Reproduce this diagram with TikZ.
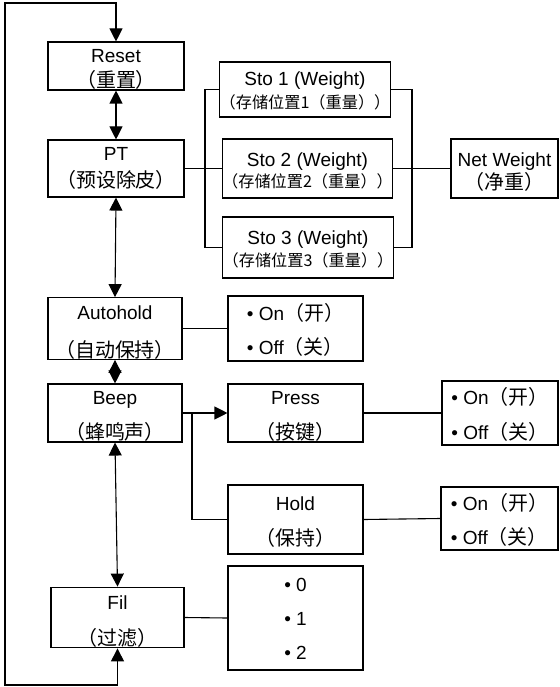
\documentclass[tikz,border=0pt]{standalone}
\usepackage{fontspec}
\setmainfont{Liberation Sans}
\newfontfamily\cjk[Scale=1.05]{Noto Sans CJK SC}
\newcommand{\hs}[1][20pt]{\rule{0pt}{#1}}
\usetikzlibrary{arrows.meta}

\begin{document}
\begin{tikzpicture}[x=1pt, y=-1pt,
        box/.style={rectangle, draw=black, line width=1.1pt, inner sep=0pt, align=center, font=\fontsize{19}{23}\selectfont},
        opt/.style={box, align=left},
        link/.style={line width=1.1pt},
        arr/.style={link, -{Triangle[length=13pt, width=13pt]}},
        dbl/.style={link, {Triangle[length=13pt, width=13pt]}-{Triangle[length=13pt, width=13pt]}}
    ]
    \useasboundingbox (0,0) rectangle (559,687);

    % main column
    \node[box, minimum width=136, minimum height=48] (reset) at (116,66) {\hs Reset\\[2.8pt]{\cjk （重置）}};
    \node[box, minimum width=136, minimum height=57] (pt) at (116,168.5) {PT\\[4.8pt]{\cjk （预设除皮）}};
    \node[box, minimum width=134, minimum height=59] (autohold) at (115,328.5) {\hs[21.5pt]Autohold\\[15.3pt]{\cjk （自动保持）}};
    \node[box, minimum width=134, minimum height=58] (beep) at (115,413) {\hs Beep\\[11.8pt]{\cjk （蜂鸣声）}};
    \node[box, minimum width=133, minimum height=59] (fil) at (117.5,617.5) {\hs[22pt]Fil\\[13.8pt]{\cjk （过滤）}};

    % stored weights
    \node[box, minimum width=158, minimum height=55] (sto1) at (305,89.5) {\hs[17pt]Sto 1 (Weight)\\[0.4pt]{\cjk\fontsize{15.4}{23}\selectfont （存储位置1（重量））}};
    \node[box, minimum width=159, minimum height=59] (sto2) at (307.5,168.5) {\hs[18pt]Sto 2 (Weight)\\[-1.6pt]{\cjk\fontsize{15.4}{23}\selectfont （存储位置2（重量））}};
    \node[box, minimum width=162, minimum height=61] (sto3) at (308,247.5) {\hs[17.5pt]Sto 3 (Weight)\\[-0.6pt]{\cjk\fontsize{15.4}{23}\selectfont （存储位置3（重量））}};
    \node[box, minimum width=107, minimum height=59] (net) at (504.5,168.5) {\hs[21pt]Net Weight\\[0.8pt]{\cjk （净重）}};

    % settings
    \node[opt, minimum width=135, minimum height=65] (autoopt) at (295.5,328.5) {\hs • On{\cjk （开）}\\[11pt]• Off{\cjk （关）}};
    \node[box, minimum width=135, minimum height=58] (press) at (295.5,413) {\hs Press\\[12.8pt]{\cjk （按键）}};
    \node[box, minimum width=135, minimum height=69] (hold) at (295.5,519.5) {\hs[18.5pt]Hold\\[11.8pt]{\cjk （保持）}};
    \node[opt, minimum width=116, minimum height=64] (pressopt) at (500,413) {\hs • On{\cjk （开）}\\[12pt]• Off{\cjk （关）}};
    \node[opt, minimum width=117, minimum height=63] (holdopt) at (499.5,518.5) {\hs • On{\cjk （开）}\\[11pt]• Off{\cjk （关）}};
    \node[box, minimum width=135, minimum height=104] (filopt) at (295.5,618) {\hs[15.5pt]• 0\\[11pt]• 1\\[11pt]• 2};

    % connectors
    \coordinate (lb) at (5,685);
    \coordinate (lt) at (5,3);
    \coordinate (lbus) at (205,168.5);
    \coordinate (rbus) at (412,168.5);
    \coordinate (split) at (192,413);

    \draw[dbl] (fil.south) |- (lb) -- (lt) -| (reset.north);
    \draw[dbl] (reset.south) -- (pt.north);
    \draw[dbl] (pt.south) -- (autohold.north);
    \draw[dbl] (autohold.south) -- (beep.north);
    \draw[dbl] (beep.south) -- (fil.north);

    \draw[link] (pt.east) -- (sto2.west);
    \draw[link] (sto1.west) -| (lbus) |- (sto3.west);
    \draw[link] (sto1.east) -| (rbus) |- (sto3.east);
    \draw[link] (sto2.east) -- (net.west);

    \draw[link] (autohold.east) -- (autoopt.west);
    \draw[arr] (beep.east) -- (press.west);
    \draw[link] (split) |- (hold.west);
    \draw[link] (press.east) -- (pressopt.west);
    \draw[link] (hold.east) -- (holdopt.west);
    \draw[link] (fil.east) -- (filopt.west);
\end{tikzpicture}
\end{document}
